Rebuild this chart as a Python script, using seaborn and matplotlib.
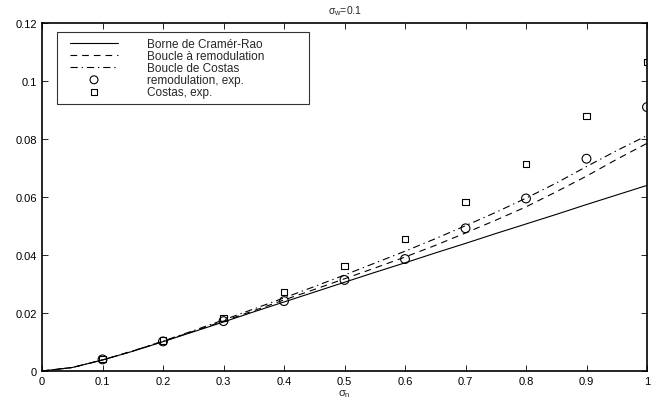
import numpy as np
import pandas as pd
import seaborn as sns
import matplotlib.pyplot as plt
from matplotlib.lines import Line2D
from matplotlib.collections import PathCollection
from matplotlib.legend_handler import HandlerLine2D, HandlerPathCollection

# theoretical curves
x_curve = [0, 0.05, 0.1, 0.15, 0.2, 0.25, 0.3, 0.35, 0.4, 0.45, 0.5,
           0.55, 0.6, 0.65, 0.7, 0.75, 0.8, 0.85, 0.9, 0.95, 1.0]
cramer_rao = [0, 0.0012, 0.0038, 0.0068, 0.0101, 0.0135, 0.0169, 0.0204, 0.0238, 0.0272, 0.0306,
              0.0340, 0.0373, 0.0407, 0.0440, 0.0474, 0.0507, 0.0540, 0.0574, 0.0607, 0.0640]
remod_curve = [0, 0.0012, 0.0038, 0.0069, 0.0102, 0.0137, 0.0172, 0.0208, 0.0245, 0.0281, 0.0318,
               0.0355, 0.0393, 0.0433, 0.0476, 0.0520, 0.0566, 0.0618, 0.0672, 0.0730, 0.0785]
costas_curve = [0, 0.0012, 0.0038, 0.0069, 0.0103, 0.0139, 0.0176, 0.0214, 0.0252, 0.0291, 0.0331,
                0.0372, 0.0413, 0.0456, 0.0501, 0.0547, 0.0596, 0.0648, 0.0705, 0.0760, 0.0812]

# experimental points
x_exp = [0.1, 0.2, 0.3, 0.4, 0.5, 0.6, 0.7, 0.8, 0.9, 1.0]
remod_exp = [0.0040, 0.0102, 0.0172, 0.0241, 0.0314, 0.0386, 0.0492, 0.0595, 0.0732, 0.0910]
costas_exp = [0.0041, 0.0106, 0.0183, 0.0272, 0.0362, 0.0455, 0.0582, 0.0713, 0.0880, 0.1065]

xticks = [0, 0.1, 0.2, 0.3, 0.4, 0.5, 0.6, 0.7, 0.8, 0.9, 1]
xtick_labels = ['0', '0.1', '0.2', '0.3', '0.4', '0.5', '0.6', '0.7', '0.8', '0.9', '1']
yticks = [0, 0.02, 0.04, 0.06, 0.08, 0.1, 0.12]
ytick_labels = ['0', '0.02', '0.04', '0.06', '0.08', '0.1', '0.12']

sns.set_style('white')
plt.rcParams['font.family'] = ['Liberation Sans', 'DejaVu Sans']
plt.rcParams['mathtext.fontset'] = 'custom'
plt.rcParams['mathtext.rm'] = 'Liberation Sans'
plt.rcParams['mathtext.it'] = 'Liberation Sans'

fig = plt.figure(figsize=(6.62, 4.02), dpi=100)
W, H = 605, 348
ax = fig.add_axes([42 / 662, 30 / 402, W / 662, H / 402])

lw = 0.8
sns.lineplot(x=x_curve, y=cramer_rao, ax=ax, color='k', lw=lw, label='Borne de Cramér-Rao')
sns.lineplot(x=x_curve, y=remod_curve, ax=ax, color='k', lw=lw,
             label='Boucle à remodulation').lines[-1].set_dashes((6, 4.5))
sns.lineplot(x=x_curve, y=costas_curve, ax=ax, color='k', lw=lw,
             label='Boucle de Costas').lines[-1].set_dashes((6.5, 3.5, 1.2, 3.5))
sns.scatterplot(x=x_exp, y=remod_exp, ax=ax, marker='o', s=40, facecolor='none',
                edgecolor='k', linewidth=0.8, label='remodulation, exp.')
sns.scatterplot(x=x_exp, y=costas_exp, ax=ax, marker='s', s=22, facecolor='none',
                edgecolor='k', linewidth=0.8, label='Costas, exp.')

ax.set_xlim(0, 1)
ax.set_ylim(0, 0.12)
ax.set_xticks(xticks)
ax.set_xticklabels(xtick_labels)
ax.set_yticks(yticks)
ax.set_yticklabels(ytick_labels)
ax.tick_params(direction='in', length=4, width=0.6, labelsize=8, top=True, right=True,
               bottom=True, left=True, pad=3.5, colors='k')
for s in ax.spines.values():
    s.set_linewidth(1.2)
    s.set_color('k')
ax.set_title(r'$\sigma_w$=0.1', fontsize=7.5, pad=7)
ax.set_xlabel(r'$\sigma_n$', fontsize=8, labelpad=1)

# legend box spans x 57..309, top at y 33 (pixels)
hpad = 0.62
leg = ax.legend(loc='upper left', bbox_to_anchor=(15 / W, 1 - 9 / H, 252 / W, 0.0),
                mode='expand', borderaxespad=0, fontsize=8.5, frameon=True, fancybox=False,
                handlelength=4.65, handletextpad=2.5, labelspacing=0.0, borderpad=0.5,
                markerscale=0.9,
                handler_map={Line2D: HandlerLine2D(xpad=hpad),
                             PathCollection: HandlerPathCollection(xpad=hpad)})
leg.get_frame().set_edgecolor('k')
leg.get_frame().set_linewidth(0.8)

plt.savefig('out.png', dpi=100)
